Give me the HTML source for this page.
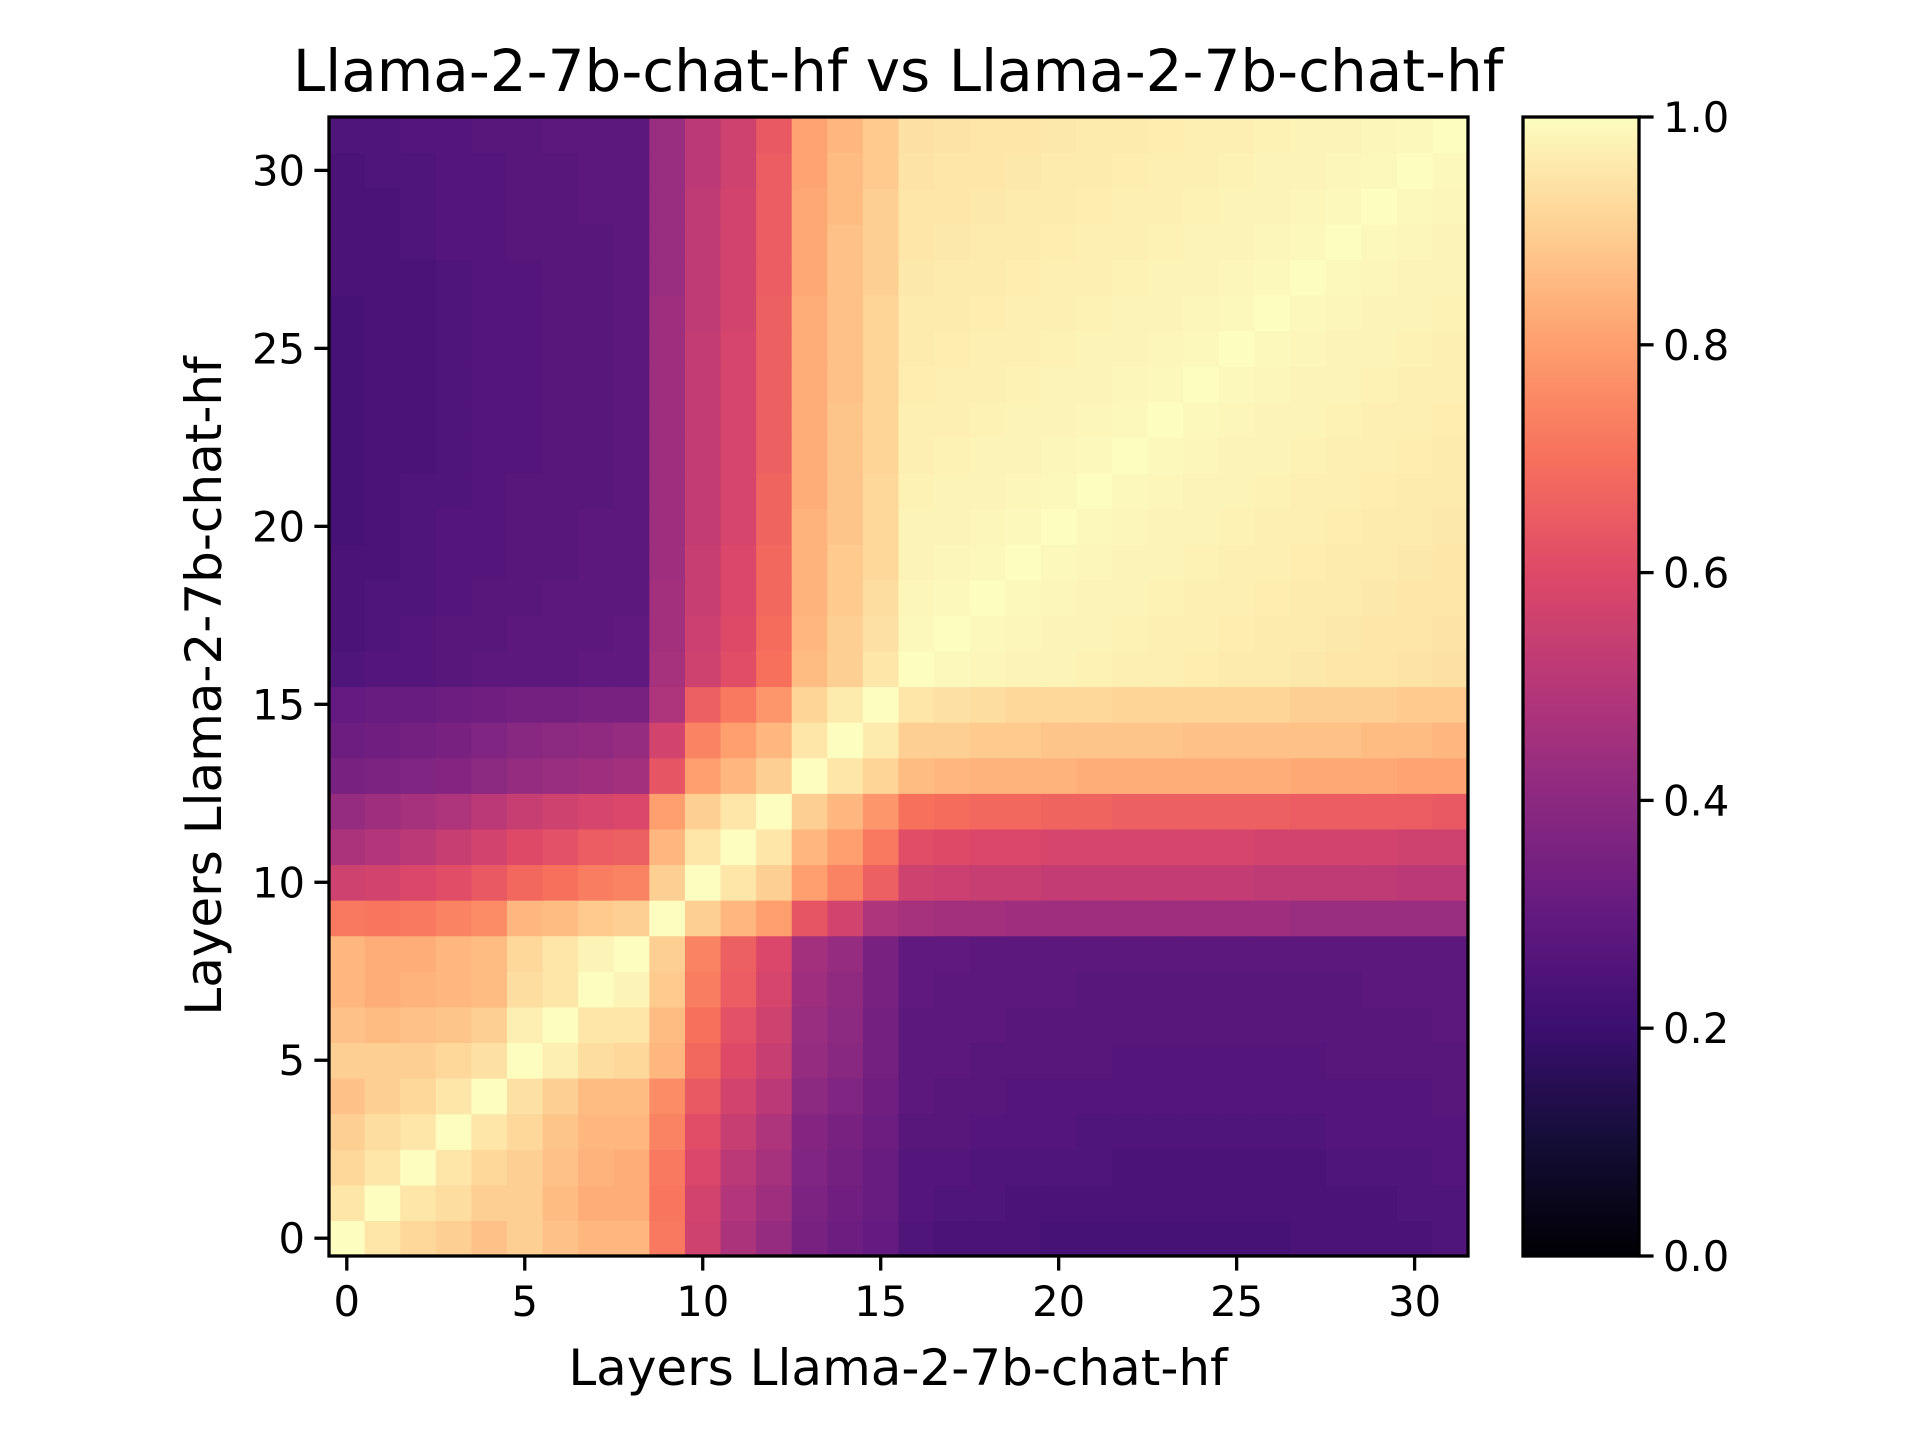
<!DOCTYPE html>
<html>
<head>
<meta charset="utf-8">
<style>
  html,body{margin:0;padding:0;background:#fff;}
  svg{display:block;}
  text{font-family:"DejaVu Sans","Liberation Sans",sans-serif;fill:#000;}
</style>
</head>
<body>
<svg id="chart" width="1920" height="1440" viewBox="0 0 1920 1440" xmlns="http://www.w3.org/2000/svg">
  <defs>
    <linearGradient id="magmaGrad" x1="0" y1="1" x2="0" y2="0">
      <stop offset="0" stop-color="#000004"/>
      <stop offset="0.1" stop-color="#140e36"/>
      <stop offset="0.2" stop-color="#3b0f70"/>
      <stop offset="0.3" stop-color="#641a80"/>
      <stop offset="0.4" stop-color="#8c2981"/>
      <stop offset="0.5" stop-color="#b73779"/>
      <stop offset="0.6" stop-color="#de4968"/>
      <stop offset="0.7" stop-color="#f7705c"/>
      <stop offset="0.8" stop-color="#fe9f6d"/>
      <stop offset="0.9" stop-color="#fecf92"/>
      <stop offset="1" stop-color="#fcfdbf"/>
    </linearGradient>
  </defs>
  <text x="898" y="91" font-size="58" text-anchor="middle">Llama-2-7b-chat-hf vs Llama-2-7b-chat-hf</text>
  <g id="cells"></g>
  <g id="xticks"></g>
  <g id="yticks"></g>
  <rect x="329" y="117" width="1139" height="1139" fill="none" stroke="#000" stroke-width="3.3"/>
  <text x="898" y="1385" font-size="50" text-anchor="middle">Layers Llama-2-7b-chat-hf</text>
  <text transform="translate(221,686) rotate(-90)" font-size="50" text-anchor="middle">Layers Llama-2-7b-chat-hf</text>
  <rect x="1523" y="117" width="116" height="1139" fill="url(#magmaGrad)" stroke="#000" stroke-width="3.3"/>
  <g id="cbticks"></g>
</svg>
<script>
const layerIndex = [0,1,2,3,4,5,6,7,8,9,10,11,12,13,14,15,16,17,18,19,20,21,22,23,24,25,26,27,28,29,30,31];
const tickValues = [0,5,10,15,20,25,30];
const colorbarTicks = [0.0,0.2,0.4,0.6,0.8,1.0];
const colorbarLabels = ["0.0","0.2","0.4","0.6","0.8","1.0"];
// similarity[row][col]; row = y layer index (0 at bottom), col = x layer index
const similarity = [
[1,.95,.92,.9,.87,.9,.87,.85,.85,.72,.56,.47,.42,.35,.32,.3, .25,.24,.24,.24,.23,.23,.23,.23,.23,.23,.23,.24,.24,.24,.24,.25],
[.95,1,.95,.93,.9,.9,.86,.83,.83,.71,.57,.49,.44,.36,.33,.31, .26,.25,.25,.24,.24,.24,.24,.24,.24,.24,.24,.24,.24,.24,.25,.25],
[.92,.95,1,.95,.92,.9,.87,.84,.83,.72,.59,.51,.46,.37,.34,.31, .26,.26,.25,.25,.25,.25,.24,.24,.24,.24,.24,.24,.25,.25,.25,.26],
[.9,.93,.95,1,.95,.92,.88,.85,.85,.74,.61,.54,.48,.38,.35,.32, .27,.27,.26,.26,.26,.25,.25,.25,.25,.25,.25,.25,.26,.26,.26,.26],
[.87,.9,.92,.95,1,.94,.9,.86,.86,.76,.64,.57,.51,.4,.37,.33, .28,.27,.27,.26,.26,.26,.26,.26,.26,.26,.26,.26,.26,.26,.26,.27],
[.9,.9,.9,.92,.94,1,.97,.93,.92,.85,.68,.6,.54,.42,.39,.34, .28,.28,.27,.27,.27,.27,.26,.26,.26,.26,.26,.26,.27,.27,.27,.27],
[.87,.86,.87,.88,.9,.97,1,.95,.95,.86,.7,.62,.56,.43,.4,.34, .28,.28,.28,.27,.27,.27,.27,.27,.27,.27,.27,.27,.27,.27,.27,.28],
[.85,.83,.84,.85,.86,.93,.95,1,.98,.89,.73,.65,.58,.44,.41,.35, .29,.28,.28,.28,.28,.27,.27,.27,.27,.27,.27,.27,.27,.28,.28,.28],
[.85,.83,.83,.85,.86,.92,.95,.98,1,.9,.74,.66,.59,.45,.42,.35, .29,.29,.28,.28,.28,.28,.28,.28,.28,.28,.28,.28,.28,.28,.28,.28],
[.72,.71,.72,.74,.76,.85,.86,.89,.9,1,.9,.85,.8,.63,.57,.48, .46,.45,.45,.44,.44,.44,.44,.44,.44,.44,.44,.43,.43,.43,.43,.43],
[.56,.57,.59,.61,.64,.68,.7,.73,.74,.9,1,.95,.9,.8,.74,.66, .56,.55,.54,.54,.53,.53,.53,.53,.53,.53,.52,.52,.52,.52,.51,.51],
[.47,.49,.51,.54,.57,.6,.62,.65,.66,.85,.95,1,.95,.85,.8,.72, .61,.6,.59,.59,.58,.58,.58,.58,.58,.58,.57,.57,.57,.57,.56,.56],
[.42,.44,.46,.48,.51,.54,.56,.58,.59,.8,.9,.95,1,.9,.85,.78, .7,.69,.68,.68,.67,.67,.66,.66,.66,.66,.66,.65,.65,.65,.65,.64],
[.35,.36,.37,.38,.4,.42,.43,.44,.45,.63,.8,.85,.9,1,.95,.91, .86,.85,.84,.84,.84,.83,.83,.83,.83,.83,.83,.82,.82,.82,.81,.81],
[.32,.33,.34,.35,.37,.39,.4,.41,.42,.57,.74,.8,.85,.95,1,.96, .9,.9,.89,.89,.88,.88,.88,.88,.87,.87,.87,.87,.87,.86,.86,.85],
[.3,.31,.31,.32,.33,.34,.34,.35,.35,.48,.66,.72,.78,.91,.96,1, .95,.94,.93,.92,.92,.92,.91,.91,.91,.91,.91,.9,.9,.9,.89,.89],
[.25,.26,.26,.27,.28,.28,.28,.29,.29,.46,.56,.61,.7,.86,.9,.95, 1,.99,.985,.98,.98,.975,.97,.97,.965,.96,.96,.955,.95,.95,.945,.94],
[.24,.25,.26,.27,.27,.28,.28,.28,.29,.45,.55,.6,.69,.85,.9,.94, .99,1,.99,.985,.98,.98,.975,.97,.97,.965,.96,.96,.955,.95,.95,.945],
[.24,.25,.25,.26,.27,.27,.28,.28,.28,.45,.54,.59,.68,.84,.89,.93, .985,.99,1,.99,.985,.98,.98,.975,.97,.97,.965,.96,.96,.955,.95,.95],
[.24,.24,.25,.26,.26,.27,.27,.28,.28,.44,.54,.59,.68,.84,.89,.92, .98,.985,.99,1,.99,.985,.98,.98,.975,.97,.97,.965,.96,.96,.955,.95],
[.23,.24,.25,.26,.26,.27,.27,.28,.28,.44,.53,.58,.67,.84,.88,.92, .98,.98,.985,.99,1,.99,.985,.98,.98,.975,.97,.97,.965,.96,.96,.955],
[.23,.24,.25,.25,.26,.27,.27,.27,.28,.44,.53,.58,.67,.83,.88,.92, .975,.98,.98,.985,.99,1,.99,.985,.98,.98,.975,.97,.97,.965,.96,.96],
[.23,.24,.24,.25,.26,.26,.27,.27,.28,.44,.53,.58,.66,.83,.88,.91, .97,.975,.98,.98,.985,.99,1,.99,.985,.98,.98,.975,.97,.97,.965,.96],
[.23,.24,.24,.25,.26,.26,.27,.27,.28,.44,.53,.58,.66,.83,.88,.91, .97,.97,.975,.98,.98,.985,.99,1,.99,.985,.98,.98,.975,.97,.97,.965],
[.23,.24,.24,.25,.26,.26,.27,.27,.28,.44,.53,.58,.66,.83,.87,.91, .965,.97,.97,.975,.98,.98,.985,.99,1,.99,.985,.98,.98,.975,.97,.97],
[.23,.24,.24,.25,.26,.26,.27,.27,.28,.44,.53,.58,.66,.83,.87,.91, .96,.965,.97,.97,.975,.98,.98,.985,.99,1,.99,.985,.98,.98,.975,.97],
[.23,.24,.24,.25,.26,.26,.27,.27,.28,.44,.52,.57,.66,.83,.87,.91, .96,.96,.965,.97,.97,.975,.98,.98,.985,.99,1,.99,.985,.98,.98,.975],
[.24,.24,.24,.25,.26,.26,.27,.27,.28,.43,.52,.57,.65,.82,.87,.9, .955,.96,.96,.965,.97,.97,.975,.98,.98,.985,.99,1,.99,.985,.98,.98],
[.24,.24,.25,.26,.26,.27,.27,.27,.28,.43,.52,.57,.65,.82,.87,.9, .95,.955,.96,.96,.965,.97,.97,.975,.98,.98,.985,.99,1,.99,.985,.98],
[.24,.24,.25,.26,.26,.27,.27,.28,.28,.43,.52,.57,.65,.82,.86,.9, .95,.95,.955,.96,.96,.965,.97,.97,.975,.98,.98,.985,.99,1,.99,.985],
[.24,.25,.25,.26,.26,.27,.27,.28,.28,.43,.51,.56,.65,.81,.86,.89, .945,.95,.95,.955,.96,.96,.965,.97,.97,.975,.98,.98,.985,.99,1,.99],
[.25,.25,.26,.26,.27,.27,.28,.28,.28,.43,.51,.56,.64,.81,.85,.89, .94,.945,.95,.95,.955,.96,.96,.965,.97,.97,.975,.98,.98,.985,.99,1]
];

const NS = "http://www.w3.org/2000/svg";
const PL = 329, PT = 117, PW = 1139, PH = 1139;
const N = layerIndex.length;
const cw = PW / N, ch = PH / N;
function xScale(v){ return PL + (v + 0.5) * cw; }
function yScale(v){ return PT + PH - (v + 0.5) * ch; }
const CB = {x:1523, y:117, w:116, h:1139};
function cbScale(v){ return CB.y + CB.h - v * CB.h; }

const magmaStops = [[0,0,0,4],[.1,20,14,54],[.2,59,15,112],[.3,100,26,128],[.4,140,41,129],[.5,183,55,121],[.6,222,73,104],[.7,247,112,92],[.8,254,159,109],[.9,254,207,146],[1,252,253,191]];
function magma(t){
  t = Math.max(0, Math.min(1, t));
  for (let i = 1; i < magmaStops.length; i++){
    const a = magmaStops[i-1], b = magmaStops[i];
    if (t <= b[0]){
      const f = (t - a[0]) / (b[0] - a[0]);
      const c = [1,2,3].map(k => Math.round(a[k] + (b[k]-a[k]) * f));
      return "rgb(" + c.join(",") + ")";
    }
  }
  return "rgb(252,253,191)";
}

const cells = document.getElementById("cells");
similarity.forEach((row, r) => {
  row.forEach((val, c) => {
    const rect = document.createElementNS(NS, "rect");
    rect.setAttribute("x", (xScale(layerIndex[c]) - cw/2).toFixed(2));
    rect.setAttribute("y", (yScale(layerIndex[r]) - ch/2).toFixed(2));
    rect.setAttribute("width", (cw + 0.6).toFixed(2));
    rect.setAttribute("height", (ch + 0.6).toFixed(2));
    rect.setAttribute("fill", magma(val));
    
    
    cells.appendChild(rect);
  });
});

const xt = document.getElementById("xticks");
tickValues.forEach(v => {
  const x = xScale(v);
  const ln = document.createElementNS(NS, "line");
  ln.setAttribute("x1", x); ln.setAttribute("x2", x);
  ln.setAttribute("y1", PT + PH); ln.setAttribute("y2", PT + PH + 14.6);
  ln.setAttribute("stroke", "#000"); ln.setAttribute("stroke-width", "3.3");
  
  
  xt.appendChild(ln);
  const tx = document.createElementNS(NS, "text");
  tx.setAttribute("x", x); tx.setAttribute("y", PT + PH + 60);
  tx.setAttribute("font-size", "41.7"); tx.setAttribute("text-anchor", "middle");
  tx.textContent = String(v);
  
  
  xt.appendChild(tx);
});

const yt = document.getElementById("yticks");
tickValues.forEach(v => {
  const y = yScale(v);
  const ln = document.createElementNS(NS, "line");
  ln.setAttribute("x1", PL - 14.6); ln.setAttribute("x2", PL);
  ln.setAttribute("y1", y); ln.setAttribute("y2", y);
  ln.setAttribute("stroke", "#000"); ln.setAttribute("stroke-width", "3.3");
  
  
  yt.appendChild(ln);
  const tx = document.createElementNS(NS, "text");
  tx.setAttribute("x", PL - 24); tx.setAttribute("y", y + 15);
  tx.setAttribute("font-size", "41.7"); tx.setAttribute("text-anchor", "end");
  tx.textContent = String(v);
  
  
  yt.appendChild(tx);
});

const cbt = document.getElementById("cbticks");
colorbarTicks.forEach((v, i) => {
  const y = cbScale(v);
  const ln = document.createElementNS(NS, "line");
  ln.setAttribute("x1", CB.x + CB.w); ln.setAttribute("x2", CB.x + CB.w + 14.6);
  ln.setAttribute("y1", y); ln.setAttribute("y2", y);
  ln.setAttribute("stroke", "#000"); ln.setAttribute("stroke-width", "3.3");
  
  
  cbt.appendChild(ln);
  const tx = document.createElementNS(NS, "text");
  tx.setAttribute("x", CB.x + CB.w + 24); tx.setAttribute("y", y + 15);
  tx.setAttribute("font-size", "41.7"); tx.setAttribute("text-anchor", "start");
  tx.textContent = colorbarLabels[i];
  
  
  cbt.appendChild(tx);
});
</script>
</body>
</html>
